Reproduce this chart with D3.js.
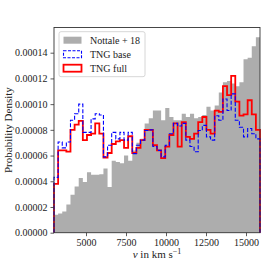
<!DOCTYPE html>
<html>
<head>
<meta charset="utf-8">
<script src="https://cdn.jsdelivr.net/npm/d3@7"></script>
<style>
  body { margin: 0; background: #fff; }
  svg { display: block; }
  text { font-family: "Liberation Serif", "DejaVu Serif", serif; fill: #222; }
</style>
</head>
<body>
<div id="chart"></div>
<script>
// Histogram range (km/s) and bin count
const vMin = 3000;
const vMax = 15875;
const nBins = 50;

// Probability density per bin
const nottale = [
  1.40e-5, 1.50e-5, 1.65e-5, 2.20e-5, 2.95e-5, 3.60e-5, 4.25e-5, 3.95e-5, 4.70e-5, 4.50e-5,
  4.50e-5, 4.55e-5, 5.00e-5, 3.55e-5, 5.60e-5, 5.50e-5, 5.40e-5, 6.00e-5, 5.60e-5, 6.40e-5,
  7.00e-5, 7.30e-5, 8.50e-5, 8.90e-5, 9.50e-5, 9.50e-5, 8.75e-5, 9.70e-5, 9.00e-5, 8.75e-5,
  8.75e-5, 9.25e-5, 9.00e-5, 9.25e-5, 8.90e-5, 9.00e-5, 9.15e-5, 9.80e-5, 9.50e-5, 9.90e-5,
  10.9e-5, 11.7e-5, 11.8e-5, 11.6e-5, 11.4e-5, 11.7e-5, 13.5e-5, 13.6e-5, 14.5e-5, 15.2e-5
];
const tngBase = [
  4.30e-5, 7.05e-5, 6.60e-5, 7.05e-5, 8.75e-5, 9.25e-5, 10.0e-5, 7.80e-5, 7.80e-5, 8.85e-5,
  9.25e-5, 9.15e-5, 5.90e-5, 6.80e-5, 7.80e-5, 7.30e-5, 7.80e-5, 7.20e-5, 7.80e-5, 6.15e-5,
  6.80e-5, 7.20e-5, 7.95e-5, 8.00e-5, 6.70e-5, 6.40e-5, 5.90e-5, 6.80e-5, 7.70e-5, 8.50e-5,
  8.30e-5, 8.50e-5, 7.20e-5, 6.70e-5, 6.30e-5, 7.95e-5, 8.35e-5, 7.45e-5, 7.20e-5, 9.10e-5,
  8.75e-5, 10.4e-5, 9.50e-5, 10.8e-5, 8.75e-5, 8.20e-5, 7.45e-5, 8.10e-5, 7.70e-5, 7.30e-5
];
const tngFull = [
  3.80e-5, 6.40e-5, 6.40e-5, 6.30e-5, 8.00e-5, 8.40e-5, 8.70e-5, 7.20e-5, 7.60e-5, 7.70e-5,
  8.50e-5, 7.70e-5, 5.85e-5, 6.20e-5, 6.90e-5, 7.10e-5, 7.20e-5, 6.60e-5, 7.50e-5, 6.20e-5,
  6.60e-5, 7.20e-5, 8.00e-5, 8.00e-5, 6.80e-5, 6.40e-5, 5.80e-5, 6.70e-5, 7.60e-5, 8.50e-5,
  6.70e-5, 8.60e-5, 7.45e-5, 7.30e-5, 7.70e-5, 8.60e-5, 9.00e-5, 8.00e-5, 7.70e-5, 9.50e-5,
  9.40e-5, 11.4e-5, 10.7e-5, 12.2e-5, 10.2e-5, 9.10e-5, 9.20e-5, 10.3e-5, 9.20e-5, 8.00e-5
];

const xTicks = [5000, 7500, 10000, 12500, 15000];
const yTicks = [0, 2e-5, 4e-5, 6e-5, 8e-5, 10e-5, 12e-5, 14e-5];
const legendLabels = ["Nottale + 18", "TNG base", "TNG full"];

// Layout
const W = 274, H = 274;
const margin = { top: 27.5, right: 14, bottom: 41.3, left: 54 };
const iw = W - margin.left - margin.right;
const ih = H - margin.top - margin.bottom;

const edges = d3.range(nBins + 1).map((i) => vMin + (i * (vMax - vMin)) / nBins);

const x = d3.scaleLinear().domain([vMin, vMax]).range([0, iw]);
const y = d3.scaleLinear().domain([0, 15.96e-5]).range([ih, 0]);

const svg = d3.select("#chart").append("svg").attr("width", W).attr("height", H);
const g = svg.append("g").attr("transform", `translate(${margin.left},${margin.top})`);

// Step outlines
function stepPoints(vals) {
  const pts = [[edges[0], 0]];
  vals.forEach((v, i) => {
    pts.push([edges[i], v]);
    pts.push([edges[i + 1], v]);
  });
  pts.push([edges[nBins], 0]);
  return pts;
}

// Filled histogram (one shape so no seams between bins)
const area = d3.area().x((d) => x(d[0])).y0(y(0)).y1((d) => y(d[1]));
g.append("path")
  .attr("d", area(stepPoints(nottale)))
  .attr("fill", "#adadad");

const line = d3.line().x((d) => x(d[0])).y((d) => y(d[1]));

g.append("path")
  .attr("d", line(stepPoints(tngFull)))
  .attr("fill", "none")
  .attr("stroke", "#ff0000")
  .attr("stroke-width", 1.8);

g.append("path")
  .attr("d", line(stepPoints(tngBase)))
  .attr("fill", "none")
  .attr("stroke", "#0000ff")
  .attr("stroke-width", 1.1)
  .attr("stroke-dasharray", "4,1.8");

// Axes
const xAxis = g.append("g")
  .attr("transform", `translate(0,${ih})`)
  .call(d3.axisBottom(x).tickValues(xTicks).tickSize(3.5).tickPadding(3).tickFormat(d3.format("d")));
const yAxis = g.append("g")
  .call(d3.axisLeft(y).tickValues(yTicks).tickSize(3.5).tickPadding(3).tickFormat(d3.format(".5f")));

[xAxis, yAxis].forEach((a) => {
  a.select(".domain").remove();
  a.selectAll("line").attr("stroke", "#333").attr("stroke-width", 0.8);
  a.selectAll("text").style("font-size", "10px").style("font-family", "Liberation Serif, serif").attr("fill", "#222");
});

// Frame
g.append("rect")
  .attr("width", iw)
  .attr("height", ih)
  .attr("fill", "none")
  .attr("stroke", "#333")
  .attr("stroke-width", 0.9);

// Axis labels
const xl = svg.append("text")
  .attr("x", margin.left + iw / 2)
  .attr("y", 258)
  .attr("text-anchor", "middle")
  .style("font-size", "11px");
xl.append("tspan").style("font-style", "italic").text("v");
xl.append("tspan").text(" in km s");
xl.append("tspan").attr("dy", -4).style("font-size", "8px").text("−1");

svg.append("text")
  .attr("transform", `translate(12,${margin.top + ih / 2}) rotate(-90)`)
  .attr("text-anchor", "middle")
  .style("font-size", "11px")
  .text("Probability Density");

// Legend
const lg = g.append("g").attr("transform", "translate(5,4.2)");
lg.append("rect")
  .attr("width", 86)
  .attr("height", 45)
  .attr("rx", 2)
  .attr("fill", "#fff")
  .attr("fill-opacity", 0.8)
  .attr("stroke", "#ccc")
  .attr("stroke-width", 0.8);

const handles = [
  { fill: "#adadad", stroke: "none", dash: null, sw: 0 },
  { fill: "none", stroke: "#0000ff", dash: "3,1.5", sw: 1.1 },
  { fill: "none", stroke: "#ff0000", dash: null, sw: 1.8 }
];
legendLabels.forEach((lab, i) => {
  const row = lg.append("g").attr("transform", `translate(0,${8.5 + i * 14})`);
  row.append("rect")
    .attr("x", 4.5)
    .attr("y", -3.5)
    .attr("width", 18)
    .attr("height", 7)
    .attr("fill", handles[i].fill)
    .attr("stroke", handles[i].stroke)
    .attr("stroke-width", handles[i].sw)
    .attr("stroke-dasharray", handles[i].dash);
  row.append("text")
    .attr("x", 31)
    .attr("y", 3.5)
    .style("font-size", "10px")
    .text(lab);
});
</script>
</body>
</html>
